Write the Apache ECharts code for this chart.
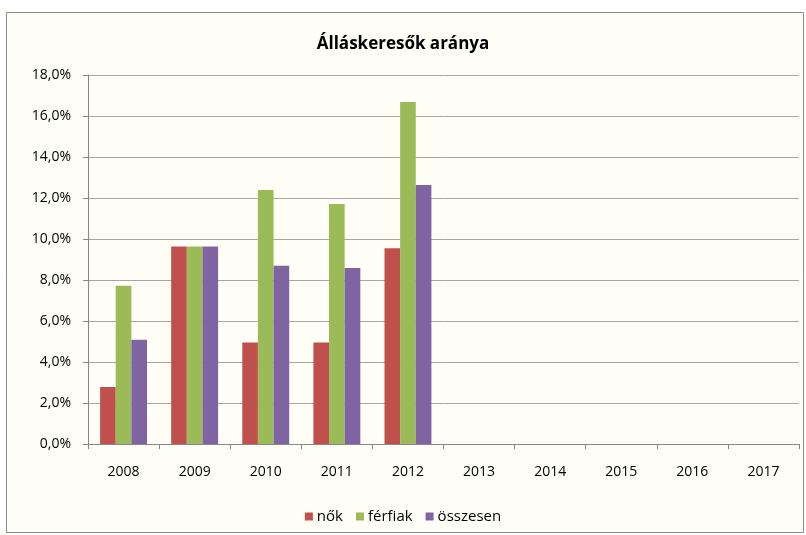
<!DOCTYPE html>
<html><head><meta charset="utf-8">
<script src="https://cdn.jsdelivr.net/npm/echarts@6/dist/echarts.min.js"></script>
<style>html,body{margin:0;padding:0;background:#fff}#c{width:806px;height:535px}</style>
</head><body><div id="c"></div>
<script>
const categories = ['2008','2009','2010','2011','2012','2013','2014','2015','2016','2017'];
const nok = [2.78, 9.63, 4.95, 4.95, 9.55, null, null, null, null, null];
const ferfiak = [7.72, 9.63, 12.39, 11.71, 16.68, null, null, null, null, null];
const osszesen = [5.08, 9.63, 8.69, 8.59, 12.64, null, null, null, null, null];
const seriesNames = ['nők', 'férfiak', 'összesen'];
const colors = ['#C0504D', '#9BBB59', '#8064A2'];

const font = '"Open Sans", sans-serif';
const chart = echarts.init(document.getElementById('c'));
const mk = (name, data, i) => ({
  name, type: 'bar', data, barGap: '0%', barCategoryGap: '34%',
  itemStyle: { color: colors[i] }, animation: false
});
chart.setOption({
  animation: false,
  backgroundColor: '#ffffff',
  graphic: [{ type: 'rect', z: -10, shape: { x: 6.5, y: 12.5, width: 797, height: 520 },
    style: { fill: '#fefef7', stroke: '#8a8a8a', lineWidth: 1 } }],
  title: { text: 'Álláskeresők aránya', left: 'center', top: 31,
    textStyle: { fontFamily: font, fontSize: 17, fontWeight: 'bold', color: '#000' } },
  legend: { bottom: 6, left: 'center', itemWidth: 8, itemHeight: 8, itemGap: 13, icon: 'rect',
    textStyle: { fontFamily: font, fontSize: 15, color: '#000', padding: [0,0,0,-1] },
    data: seriesNames },
  grid: { left: 88, right: 7, top: 75, bottom: 91, containLabel: false },
  xAxis: { type: 'category', data: categories,
    axisLine: { lineStyle: { color: '#868686' } },
    axisTick: { show: true, alignWithLabel: false, length: 5, lineStyle: { color: '#868686' } },
    axisLabel: { fontFamily: font, fontSize: 14, color: '#000', margin: 21 } },
  yAxis: { type: 'value', min: 0, max: 18, interval: 2,
    axisLine: { show: true, lineStyle: { color: '#868686' } },
    axisTick: { show: true, length: 5, lineStyle: { color: '#868686' } },
    splitLine: { lineStyle: { color: '#a6a6a6' } },
    axisLabel: { fontFamily: font, fontSize: 14, color: '#000', margin: 17,
      formatter: v => v.toFixed(1).replace('.', ',') + '%' } },
  series: [mk(seriesNames[0], nok, 0), mk(seriesNames[1], ferfiak, 1), mk(seriesNames[2], osszesen, 2)]
});
</script></body></html>
